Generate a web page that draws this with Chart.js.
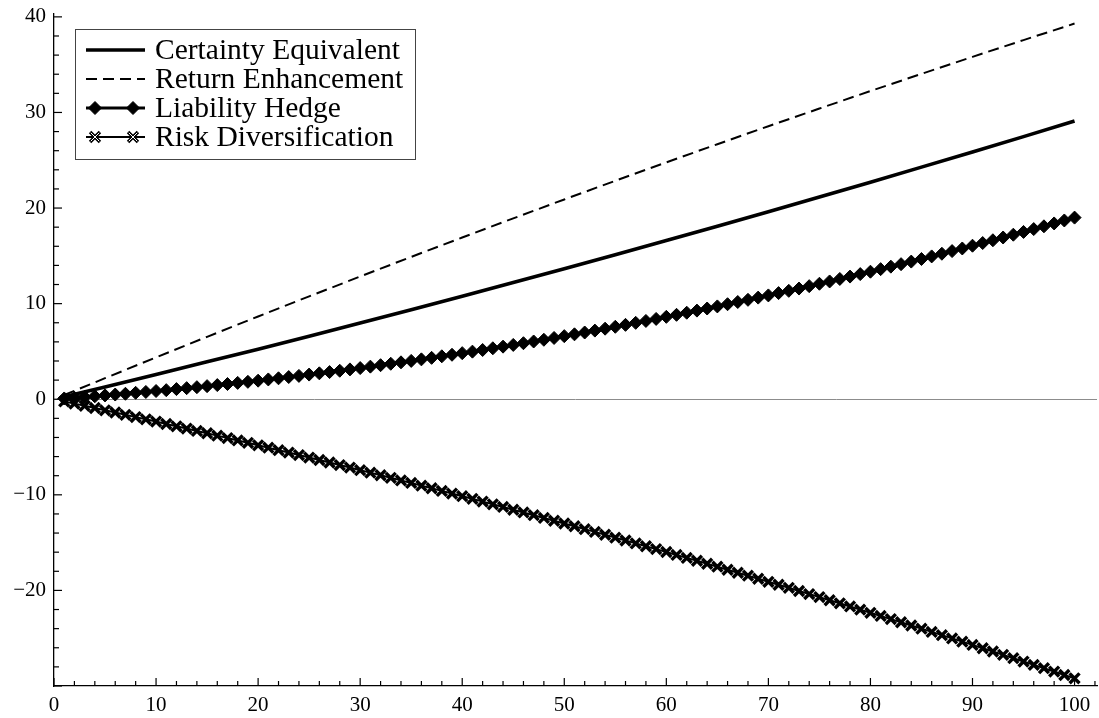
<!DOCTYPE html>
<html>
<head>
<meta charset="utf-8">
<script src="https://cdn.jsdelivr.net/npm/chart.js@4.4.1/dist/chart.umd.min.js"></script>
<style>
  html, body { margin: 0; padding: 0; background: #fff; }
  canvas { display: block; }
</style>
</head>
<body>
<canvas id="chart" width="1099" height="718"></canvas>
<script>
// horizon for the smooth lines (no markers)
var coarseX = [1, 5, 10, 15, 20, 25, 30, 35, 40, 45, 50, 55, 60, 65, 70, 75, 80, 85, 90, 95, 100];
var certaintyEquivalent = [0.26, 1.28, 2.59, 3.91, 5.24, 6.60, 7.97, 9.37, 10.78, 12.20, 13.65, 15.11, 16.60, 18.10, 19.61, 21.15, 22.70, 24.28, 25.87, 27.47, 29.10];
var returnEnhancement = [0.44, 2.20, 4.38, 6.53, 8.66, 10.76, 12.84, 14.89, 16.92, 18.92, 20.90, 22.85, 24.78, 26.68, 28.56, 30.41, 32.24, 34.04, 35.82, 37.57, 39.30];

// marker series, one value per year 1..100
var fineX = [];
for (i = 1; i <= 100; i++) fineX.push(i);
var liabilityHedge = [
  0.08, 0.15, 0.23, 0.31, 0.40, 0.49, 0.57, 0.67, 0.76, 0.86,
  0.95, 1.06, 1.16, 1.26, 1.37, 1.48, 1.59, 1.71, 1.82, 1.94,
  2.07, 2.19, 2.32, 2.44, 2.58, 2.71, 2.84, 2.98, 3.12, 3.26,
  3.41, 3.56, 3.71, 3.86, 4.01, 4.17, 4.33, 4.49, 4.65, 4.82,
  4.98, 5.15, 5.33, 5.50, 5.68, 5.86, 6.04, 6.22, 6.41, 6.60,
  6.79, 6.98, 7.18, 7.38, 7.58, 7.78, 7.99, 8.19, 8.40, 8.62,
  8.83, 9.05, 9.27, 9.49, 9.71, 9.94, 10.17, 10.40, 10.63, 10.86,
  11.10, 11.34, 11.58, 11.83, 12.08, 12.32, 12.58, 12.83, 13.09, 13.34,
  13.61, 13.87, 14.13, 14.40, 14.67, 14.94, 15.22, 15.50, 15.77, 16.06,
  16.34, 16.63, 16.92, 17.21, 17.50, 17.80, 18.09, 18.39, 18.70, 19.00
];
var riskDiversification = [
  -0.23, -0.46, -0.69, -0.92, -1.16, -1.39, -1.63, -1.87, -2.10, -2.34,
  -2.59, -2.83, -3.07, -3.32, -3.56, -3.81, -4.06, -4.31, -4.56, -4.82,
  -5.07, -5.33, -5.58, -5.84, -6.10, -6.36, -6.62, -6.89, -7.15, -7.42,
  -7.68, -7.95, -8.22, -8.49, -8.76, -9.04, -9.31, -9.59, -9.87, -10.14,
  -10.42, -10.71, -10.99, -11.27, -11.56, -11.84, -12.13, -12.42, -12.71, -13.00,
  -13.29, -13.59, -13.88, -14.18, -14.48, -14.78, -15.08, -15.38, -15.68, -15.98,
  -16.29, -16.60, -16.90, -17.21, -17.52, -17.84, -18.15, -18.46, -18.78, -19.10,
  -19.41, -19.73, -20.06, -20.38, -20.70, -21.03, -21.35, -21.68, -22.01, -22.34,
  -22.67, -23.00, -23.33, -23.67, -24.00, -24.34, -24.68, -25.02, -25.36, -25.70,
  -26.05, -26.39, -26.74, -27.09, -27.44, -27.79, -28.14, -28.49, -28.85, -29.20
];

var seriesNames = ["Certainty Equivalent", "Return Enhancement", "Liability Hedge", "Risk Diversification"];

var FONT = "'Liberation Serif', 'Times New Roman', serif";

function pts(xs, ys) {
  return xs.map(function (x, k) { return { x: x, y: ys[k] }; });
}

function minus(v) {
  return v < 0 ? "\u2212" + Math.abs(v) : String(v);
}

// inward tick marks + zero line
var frameBits = {
  id: 'frameBits',
  beforeDatasetsDraw(chart) {
    var ctx = chart.ctx, a = chart.chartArea, ys = chart.scales.y;
    var y0 = ys.getPixelForValue(0);
    ctx.save();
    ctx.strokeStyle = '#8c8c8c';
    ctx.lineWidth = 1;
    ctx.beginPath();
    ctx.moveTo(a.left, Math.round(y0) + 0.5);
    ctx.lineTo(a.right, Math.round(y0) + 0.5);
    ctx.stroke();
    ctx.restore();
  },
  afterDraw(chart) {
    var ctx = chart.ctx, a = chart.chartArea;
    var xs = chart.scales.x, ys = chart.scales.y;
    ctx.save();
    ctx.strokeStyle = '#000';
    ctx.lineWidth = 1.2;
    xs.ticks.forEach(function (t) {
      var px = xs.getPixelForValue(t.value);
      var len = (Math.round(t.value) % 10 === 0) ? 8 : 5;
      ctx.beginPath();
      ctx.moveTo(px, a.bottom);
      ctx.lineTo(px, a.bottom - len);
      ctx.stroke();
    });
    ys.ticks.forEach(function (t) {
      var py = ys.getPixelForValue(t.value);
      var len = (Math.round(t.value) % 10 === 0) ? 8 : 5;
      ctx.beginPath();
      ctx.moveTo(a.left, py);
      ctx.lineTo(a.left + len, py);
      ctx.stroke();
    });
    ctx.restore();
  }
};

// boxed legend with line samples like the original
var boxLegend = {
  id: 'boxLegend',
  afterDraw(chart) {
    var ctx = chart.ctx;
    var bx = 75, by = 29, bw = 340, bh = 130;
    ctx.save();
    ctx.fillStyle = '#fff';
    ctx.fillRect(bx, by, bw, bh);
    ctx.strokeStyle = '#444';
    ctx.lineWidth = 1;
    ctx.strokeRect(bx + 0.5, by + 0.5, bw, bh);
    ctx.font = "29.5px " + FONT;
    ctx.textBaseline = 'middle';
    ctx.fillStyle = '#000';
    chart.data.datasets.slice(0, 4).forEach(function (ds, k) {
      var y = by + 21 + k * 29;
      ctx.save();
      ctx.strokeStyle = '#000';
      ctx.lineWidth = ds.borderWidth;
      ctx.setLineDash(ds.borderDash || []);
      ctx.beginPath();
      ctx.moveTo(86, y);
      ctx.lineTo(145, y);
      ctx.stroke();
      ctx.restore();
      if (ds.pointRadius > 0) {
        [95, 133].forEach(function (mx) {
          ctx.save();
          ctx.strokeStyle = '#000';
          ctx.fillStyle = '#000';
          ctx.lineWidth = ds.pointBorderWidth;
          Chart.helpers.drawPoint(ctx, { pointStyle: ds.pointStyle, radius: ds.pointRadius, borderWidth: ds.pointBorderWidth, rotation: 0 }, mx, y);
          if (ds.pointStyle === 'crossRot') {
            ctx.strokeStyle = '#fff';
            ctx.lineWidth = 1;
            Chart.helpers.drawPoint(ctx, { pointStyle: 'crossRot', radius: ds.pointRadius - 1, borderWidth: 1, rotation: 0 }, mx, y);
          }
          ctx.restore();
        });
      }
      ctx.fillText(ds.label, 155, y + 1);
    });
    ctx.restore();
  }
};

new Chart(document.getElementById("chart"), {
  type: 'line',
  data: {
    datasets: [
      {
        label: seriesNames[0],
        data: pts(coarseX, certaintyEquivalent),
        borderColor: '#000',
        borderWidth: 3.6,
        pointRadius: 0,
        tension: 0
      },
      {
        label: seriesNames[1],
        data: pts(coarseX, returnEnhancement),
        borderColor: '#000',
        borderWidth: 2,
        borderDash: [11, 6],
        pointRadius: 0,
        tension: 0
      },
      {
        label: seriesNames[2],
        data: pts(fineX, liabilityHedge),
        borderColor: '#000',
        backgroundColor: '#000',
        borderWidth: 3,
        pointStyle: 'rectRot',
        pointRadius: 6.5,
        pointBorderWidth: 1,
        pointBackgroundColor: '#000',
        pointBorderColor: '#000'
      },
      {
        label: seriesNames[3],
        data: pts(fineX, riskDiversification),
        borderColor: '#000',
        backgroundColor: '#000',
        borderWidth: 2,
        pointStyle: 'crossRot',
        pointRadius: 7,
        pointBorderWidth: 3.4,
        pointBorderColor: '#000'
      },
      {
        // thin white core of the cross markers
        label: '',
        data: pts(fineX, riskDiversification),
        showLine: false,
        pointStyle: 'crossRot',
        pointRadius: 6,
        pointBorderWidth: 1,
        pointBorderColor: '#fff',
        pointBackgroundColor: '#fff'
      }
    ]
  },
  options: {
    responsive: false,
    animation: false,
    devicePixelRatio: 1,
    layout: { autoPadding: false, padding: { top: 14, right: 2, left: 0, bottom: 0 } },
    plugins: {
      legend: { display: false },
      tooltip: { enabled: false }
    },
    scales: {
      x: {
        type: 'linear',
        min: 0,
        max: 102.2,
        afterFit: function (s) { s.height = 32; s.paddingRight = 0; s.paddingLeft = 0; },
        border: { display: true, color: '#000', width: 1.3 },
        grid: { display: false, drawTicks: false },
        ticks: {
          stepSize: 2,
          includeBounds: false,
          autoSkip: false,
          maxRotation: 0,
          padding: 7,
          color: '#000',
          font: { family: FONT, size: 21 },
          callback: function (v) { return v % 10 === 0 && v <= 100 ? String(v) : ''; }
        }
      },
      y: {
        min: -30,
        max: 40.3,
        afterFit: function (s) { s.width = 54; s.paddingTop = 0; s.paddingBottom = 0; },
        border: { display: true, color: '#000', width: 1.3 },
        grid: { display: false, drawTicks: false },
        ticks: {
          stepSize: 2,
          includeBounds: false,
          autoSkip: false,
          padding: 8,
          color: '#000',
          font: { family: FONT, size: 21 },
          callback: function (v) { return (v % 10 === 0 && v > -30) ? minus(v) : ''; }
        }
      }
    }
  },
  plugins: [frameBits, boxLegend]
});
</script>
</body>
</html>
